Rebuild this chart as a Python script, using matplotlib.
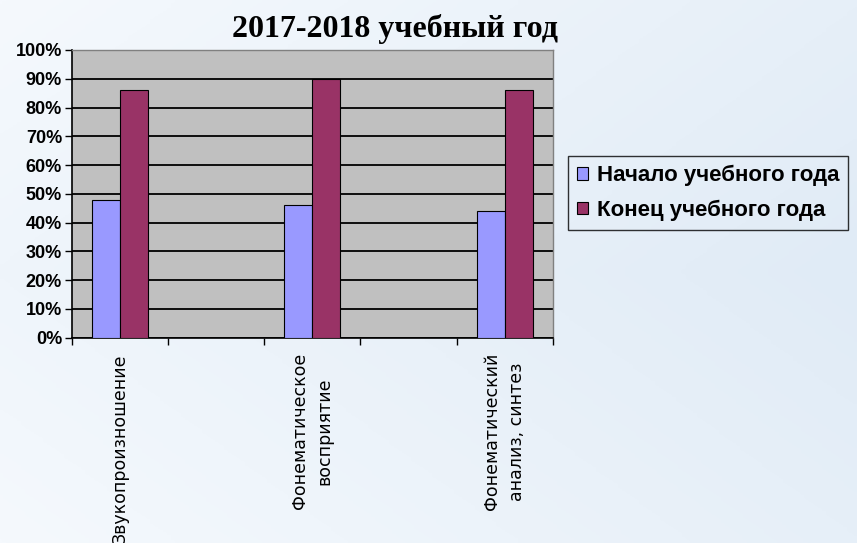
import matplotlib

matplotlib.use("Agg")
import matplotlib.pyplot as plt
import numpy as np
from matplotlib.colors import LinearSegmentedColormap
from matplotlib.patches import Patch

# --- data ---
CATEGORIES = ["Звукопроизношение", "", "Фонематическое\nвосприятие", "", "Фонематический\nанализ, синтез"]
START_OF_YEAR = [0.48, np.nan, 0.46, np.nan, 0.44]
END_OF_YEAR = [0.86, np.nan, 0.90, np.nan, 0.86]
SERIES_LABELS = ["Начало учебного года", "Конец учебного года"]
Y_TICKS = [0.0, 0.1, 0.2, 0.3, 0.4, 0.5, 0.6, 0.7, 0.8, 0.9, 1.0]
TITLE = "2017-2018 учебный год"

COLOR_START = "#9999FF"
COLOR_END = "#993366"

fig = plt.figure(figsize=(8.57, 5.43), dpi=100)

# soft blue slide background
bg = fig.add_axes([0, 0, 1, 1], zorder=-10)
gx, gy = np.meshgrid(np.linspace(0, 1, 200), np.linspace(0, 1, 200))
grad = 0.6 * gx - 0.5 * np.abs(gy - 0.5) + 0.35
cmap = LinearSegmentedColormap.from_list("bg", ["#F5F9FD", "#E0EBF6"])
bg.imshow(grad, cmap=cmap, aspect="auto", extent=[0, 1, 0, 1], origin="lower")
bg.set_axis_off()

ax = fig.add_axes([0.0837, 0.378, 0.5613, 0.530])
ax.set_facecolor("#C0C0C0")

x = np.arange(len(CATEGORIES))
width = 0.29
ax.bar(x - width / 2, START_OF_YEAR, width, color=COLOR_START, edgecolor="black", linewidth=0.8, zorder=3)
ax.bar(x + width / 2, END_OF_YEAR, width, color=COLOR_END, edgecolor="black", linewidth=0.8, zorder=3)

ax.set_xlim(-0.5, len(CATEGORIES) - 0.5)
ax.set_ylim(0, 1.0)

ax.set_yticks(Y_TICKS)
ax.set_yticklabels([f"{int(round(v * 100))}%" for v in Y_TICKS],
                   fontfamily="Liberation Sans", fontweight="bold", fontsize=13)
ax.yaxis.grid(True, color="black", linewidth=1.3, zorder=1)
ax.set_axisbelow(True)

# category boundaries as ticks, labels in the middle
ax.set_xticks(np.arange(len(CATEGORIES) + 1) - 0.5)
ax.set_xticklabels([])
ax.set_xticks(x, minor=True)
ax.set_xticklabels(CATEGORIES, minor=True, rotation=90, fontfamily="DejaVu Sans",
                   fontsize=12.5, va="top", ha="center", multialignment="center",
                   linespacing=1.5)
ax.tick_params(axis="x", which="minor", length=0, pad=11)
ax.tick_params(axis="x", which="major", length=5, width=1, color="black", direction="out")
ax.tick_params(axis="y", length=5, width=1, color="black", direction="out", pad=2)

for side in ("top", "right"):
    ax.spines[side].set_color("#808080")
    ax.spines[side].set_linewidth(1)
for side in ("left", "bottom"):
    ax.spines[side].set_color("black")
    ax.spines[side].set_linewidth(1.2)

fig.text(395 / 857, 1 - 37 / 543, TITLE, ha="center", va="baseline",
         fontfamily="Liberation Serif", fontweight="bold", fontsize=23)

handles = [Patch(facecolor=COLOR_START, edgecolor="black", linewidth=0.8),
           Patch(facecolor=COLOR_END, edgecolor="black", linewidth=0.8)]
leg = fig.legend(handles, SERIES_LABELS, loc="upper left",
                 bbox_to_anchor=(568 / 857, 1 - 156 / 543),
                 prop={"family": "Liberation Sans", "weight": "bold", "size": 16},
                 frameon=True, fancybox=False, edgecolor="black",
                 handlelength=0.5, handleheight=0.5, handletextpad=0.4,
                 borderpad=0.4, labelspacing=0.6, borderaxespad=0)
leg.get_frame().set_facecolor("none")
leg.get_frame().set_linewidth(1)

fig.savefig("out.png", dpi=100)
